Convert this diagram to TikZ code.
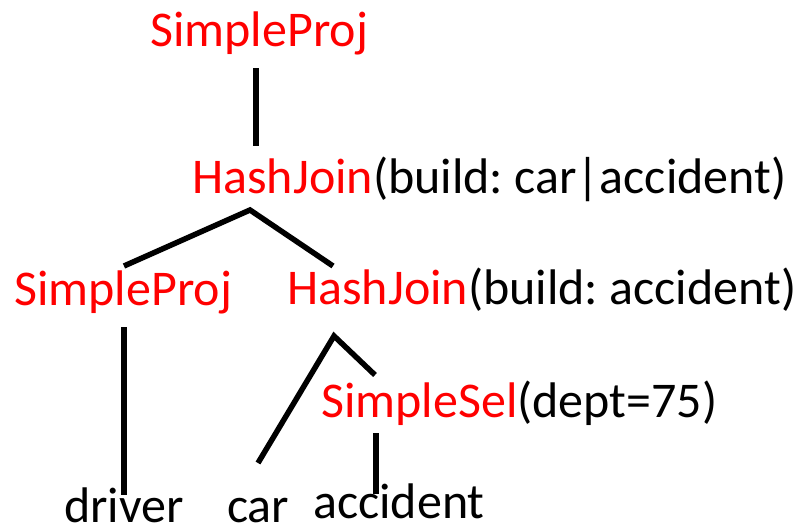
\documentclass[tikz,border=0pt]{standalone}
\usepackage{fontspec}
\setmainfont{Carlito}
\begin{document}
\frenchspacing
\begin{tikzpicture}[x=1pt,y=-1pt,
  lbl/.style={anchor=base west,inner sep=0pt,font=\fontsize{50}{60}\selectfont},
  edge/.style={line width=5.5pt,line join=miter}]
\useasboundingbox (0,0) rectangle (803,525);
% nodes
\node[lbl] (sp0) at (150,46) {\textcolor{red}{SimpleProj}};
\node[lbl] (hj0) at (192,193) {\textcolor{red}{HashJoin}(build: car|accident)};
\node[lbl] (sp1) at (14,305) {\textcolor{red}{SimpleProj}};
\node[lbl] (hj1) at (287,304) {\textcolor{red}{HashJoin}(build: accident)};
\node[lbl] (ss) at (321,417) {\textcolor{red}{SimpleSel}(dept=75)};
\node[lbl] (drv) at (64,522) {driver};
\node[lbl] (car) at (227,522) {car};
\node[lbl] (acc) at (313,518) {accident};
% connector end points
\coordinate (e1a) at (256,68);
\coordinate (e1b) at (256,146);
\coordinate (f1l) at (124,266);
\coordinate (f1v) at (250,210);
\coordinate (f1r) at (333,266);
\coordinate (e2a) at (124,327);
\coordinate (e2b) at (124,495);
\coordinate (f2l) at (258,463);
\coordinate (f2v) at (334,336);
\coordinate (f2r) at (375,375);
\coordinate (e3a) at (376,433);
\coordinate (e3b) at (376,494);
% connectors
\draw[edge] (e1a) -- (e1b);
\draw[edge] (f1l) -- (f1v) -- (f1r);
\draw[edge] (e2a) -- (e2b);
\draw[edge] (f2l) -- (f2v) -- (f2r);
\draw[edge] (e3a) -- (e3b);
\end{tikzpicture}
\end{document}
